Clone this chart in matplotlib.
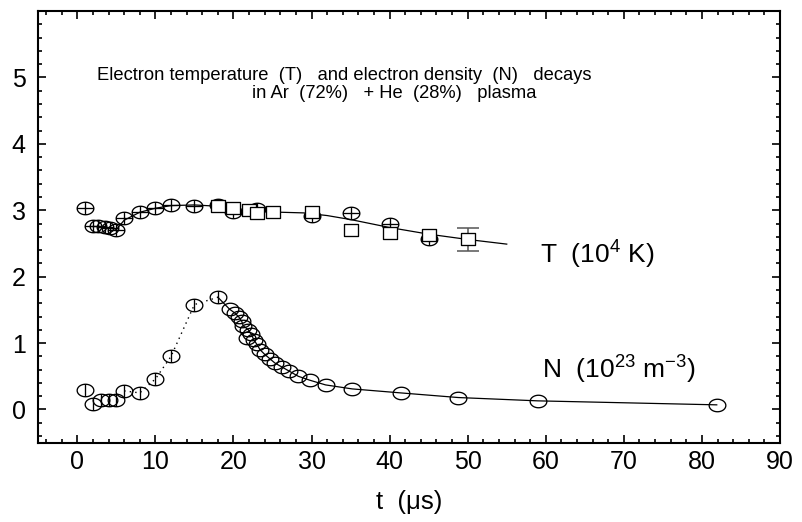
import numpy as np
import matplotlib
matplotlib.use("Agg")
import matplotlib.pyplot as plt
from matplotlib.path import Path

plt.rcParams["font.family"] = ["Liberation Sans", "DejaVu Sans"]
plt.rcParams["mathtext.fontset"] = "custom"
plt.rcParams["mathtext.rm"] = "Liberation Sans"
plt.rcParams["mathtext.it"] = "Liberation Sans"

# ---- electron temperature T (10^4 K) ----
t_T_cross = [1.0, 2.0, 2.7, 3.5, 4.2, 5.0, 6.0, 8.0, 10.0, 12.0, 15.0, 18.0,
             20.0, 23.0, 30.0, 35.0, 40.0, 45.0]
T_cross = [3.04, 2.77, 2.76, 2.75, 2.73, 2.71, 2.88, 2.98, 3.04, 3.08, 3.07, 3.08,
           2.98, 3.02, 2.92, 2.96, 2.80, 2.57]

t_T_sq = [18.0, 20.0, 22.0, 23.0, 25.0, 30.0, 35.0, 40.0, 45.0, 50.0]
T_sq = [3.07, 3.04, 3.00, 2.96, 2.97, 2.97, 2.70, 2.66, 2.63, 2.56]

t_err = [50.0]
T_err_val = [2.56]
T_err = [0.18]

t_T_fit = [4.5, 5.0, 6.0, 8.0, 10.0, 12.0, 15.0, 18.0, 20.0, 23.0, 26.0, 29.0,
           32.0, 35.0, 40.0, 45.0, 50.0, 55.0]
T_fit = [2.69, 2.71, 2.85, 2.97, 3.03, 3.07, 3.08, 3.06, 3.03, 2.99, 2.97, 2.96,
         2.92, 2.86, 2.74, 2.64, 2.56, 2.49]

# ---- electron density N (10^23 m^-3) ----
t_N_rise = [1.0, 2.0, 3.0, 4.0, 5.0, 6.0, 8.0, 10.0, 12.0, 15.0, 18.0]
N_rise = [0.30, 0.09, 0.15, 0.14, 0.15, 0.28, 0.25, 0.46, 0.80, 1.58, 1.69]

t_N_decay = [19.5, 20.2, 20.7, 21.05, 21.25, 21.7, 21.9, 22.3, 22.6, 23.0, 23.4,
             24.0, 24.7, 25.3, 26.2, 27.1, 28.3, 29.8, 31.8, 35.2, 41.4, 48.8,
             59.0, 81.9]
N_decay = [1.51, 1.45, 1.39, 1.33, 1.26, 1.08, 1.20, 1.13, 1.05, 0.98, 0.90,
           0.83, 0.76, 0.70, 0.64, 0.58, 0.50, 0.44, 0.37, 0.31, 0.25, 0.18,
           0.13, 0.07]

title_lines = ["Electron temperature  (T)   and electron density  (N)   decays",
               "in Ar  (72%)   + He  (28%)   plasma"]
label_T = r"T  (10$^{4}$ K)"
label_N = r"N  (10$^{23}$ m$^{-3}$)"
x_label = "t  (\u03bcs)"


def ellipse_marker(hbar=False, vbar=False, aspect=0.75):
    th = np.linspace(0, 2 * np.pi, 73)
    verts = list(zip(np.cos(th), aspect * np.sin(th)))
    codes = [Path.MOVETO] + [Path.LINETO] * (len(verts) - 2) + [Path.CLOSEPOLY]
    if hbar:
        verts += [(-1, 0), (1, 0)]
        codes += [Path.MOVETO, Path.LINETO]
    if vbar:
        verts += [(0, -aspect), (0, aspect)]
        codes += [Path.MOVETO, Path.LINETO]
    return Path(verts, codes)


def rect_marker(aspect=0.78):
    verts = [(-1, -aspect), (1, -aspect), (1, aspect), (-1, aspect), (-1, -aspect)]
    codes = [Path.MOVETO, Path.LINETO, Path.LINETO, Path.LINETO, Path.CLOSEPOLY]
    return Path(verts, codes)


m_cross = ellipse_marker(hbar=True, vbar=True)
m_phi = ellipse_marker(vbar=True)
m_open = ellipse_marker()
m_sq = rect_marker()

fig = plt.figure(figsize=(8.02, 5.22), dpi=100)
ax = fig.add_axes([38.3 / 802, 1 - 442.7 / 522, (780 - 38.3) / 802, (442.7 - 11) / 522])

ms_c = 12
mew = 0.95

# T
ax.plot(t_T_fit, T_fit, color="black", lw=0.9, zorder=2)
ax.plot(t_T_cross, T_cross, linestyle="none", marker=m_cross, ms=ms_c,
        mfc="none", mec="black", mew=mew, zorder=3)
ax.errorbar(t_err, T_err_val, yerr=T_err, fmt="none", ecolor="#555555",
            elinewidth=1.1, capsize=8, capthick=1.1, zorder=3.5)
ax.plot(t_T_sq, T_sq, linestyle="none", marker=m_sq, ms=10.5, mfc="white",
        mec="black", mew=mew, zorder=4)

# N
ax.plot(t_N_rise[5:], N_rise[5:], linestyle=(0, (1, 3)), color="black", lw=1.0,
        zorder=2)
dec = [(t, n) for t, n in zip(t_N_decay, N_decay) if not (t == 21.7)]
ax.plot([t_N_rise[-1]] + [d[0] for d in dec], [N_rise[-1]] + [d[1] for d in dec],
        color="black", lw=0.9, zorder=2)
ax.plot(t_N_rise, N_rise, linestyle="none", marker=m_phi, ms=ms_c,
        mfc="none", mec="black", mew=mew, zorder=3)
ax.plot(t_N_decay, N_decay, linestyle="none", marker=m_open, ms=ms_c,
        mfc="none", mec="black", mew=mew, zorder=3)

ax.set_xlim(-5, 90)
ax.set_ylim(-0.5, 6)
ax.set_xticks(np.arange(0, 91, 10))
ax.set_xticks(np.arange(-4, 91, 2), minor=True)
ax.set_yticks(np.arange(0, 6, 1))
ax.set_yticks(np.arange(-0.4, 6.0, 0.2), minor=True)
ax.tick_params(which="both", direction="in", top=True, right=True,
               labelsize=18, width=1.2)
ax.tick_params(which="major", length=5.5)
ax.tick_params(which="minor", length=3)
ax.tick_params(axis="x", pad=5)
ax.tick_params(axis="y", pad=9)
for s in ax.spines.values():
    s.set_linewidth(1.5)

ax.set_xlabel(x_label, fontsize=18.5, labelpad=12)

fam = ["Liberation Sans Narrow", "Liberation Sans", "DejaVu Sans"]
ax.text(344 / 802, 1 - 75.5 / 522, title_lines[0], transform=fig.transFigure,
        ha="center", va="center", fontsize=13.2, family=fam)
ax.text(394 / 802, 1 - 93.5 / 522, title_lines[1], transform=fig.transFigure,
        ha="center", va="center", fontsize=13.2, family=fam)
ax.text(540 / 802, 1 - 255 / 522, label_T, transform=fig.transFigure,
        ha="left", va="center", fontsize=19)
ax.text(542 / 802, 1 - 370 / 522, label_N, transform=fig.transFigure,
        ha="left", va="center", fontsize=19)

fig.savefig("out.png", dpi=100)
